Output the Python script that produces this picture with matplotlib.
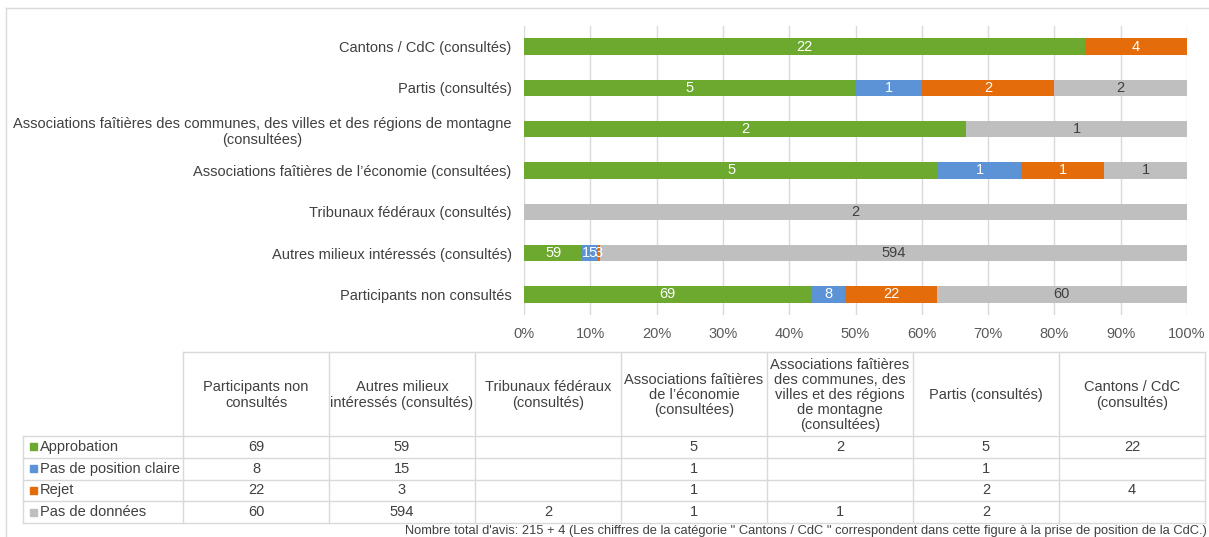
import numpy as np
import matplotlib
matplotlib.use('Agg')
import matplotlib.pyplot as plt
from matplotlib.patches import Rectangle

plt.rcParams['font.family'] = ['Liberation Sans', 'DejaVu Sans']

# categories, in table order (bottom bar first)
categories = ['Participants non consultés',
              'Autres milieux intéressés (consultés)',
              'Tribunaux fédéraux (consultés)',
              'Associations faîtières de l\u2019économie (consultées)',
              'Associations faîtières des communes, des villes et des régions de montagne\n(consultées)',
              'Partis (consultés)',
              'Cantons / CdC (consultés)']
table_headers = ['Participants non\nconsultés',
                 'Autres milieux\nintéressés (consultés)',
                 'Tribunaux fédéraux\n(consultés)',
                 'Associations faîtières\nde l\u2019économie\n(consultées)',
                 'Associations faîtières\ndes communes, des\nvilles et des régions\nde montagne\n(consultées)',
                 'Partis (consultés)',
                 'Cantons / CdC\n(consultés)']

series_names = ['Approbation', 'Pas de position claire', 'Rejet', 'Pas de données']
approbation = [69, 59, 0, 5, 2, 5, 22]
pas_claire = [8, 15, 0, 1, 0, 1, 0]
rejet = [22, 3, 0, 1, 0, 2, 4]
pas_donnees = [60, 594, 2, 1, 1, 2, 0]
colors = ['#6DA92F', '#5B93D6', '#E46C0A', '#BFBFBF']
label_colors = ['white', 'white', 'white', '#404040']

footnote = ('Nombre total d\'avis: 215 + 4 (Les chiffres de la catégorie " Cantons / CdC " '
            'correspondent dans cette figure à la prise de position de la CdC.)')

W, H = 1209, 537
fs = 10.5
fig = plt.figure(figsize=(W / 100, H / 100), dpi=100)

data = np.array([approbation, pas_claire, rejet, pas_donnees], dtype=float)
totals = data.sum(axis=0)
pct = data / totals * 100

ax = fig.add_axes([524 / W, 1 - 315 / H, (1187 - 524) / W, (315 - 26) / H])
ypos = np.arange(len(categories))
left = np.zeros(len(categories))
for k in range(4):
    ax.barh(ypos, pct[k], left=left, height=0.4, color=colors[k], zorder=3)
    for i in range(len(categories)):
        if data[k, i] > 0:
            ax.text(left[i] + pct[k, i] / 2, ypos[i], '%d' % data[k, i],
                    ha='center', va='center', fontsize=fs, color=label_colors[k], zorder=4)
    left += pct[k]

ax.set_xlim(0, 100)
ax.set_ylim(-0.5, len(categories) - 0.5)
ax.set_xticks(np.arange(0, 101, 10))
ax.set_xticklabels(['%d%%' % v for v in range(0, 101, 10)], fontsize=fs, color='#595959')
ax.set_yticks(ypos)
ax.set_yticklabels(categories, fontsize=fs, color='#404040')
for t in ax.get_yticklabels():
    t.set_multialignment('center')
ax.tick_params(length=0, pad=9)
ax.tick_params(axis='y', pad=9)
ax.grid(axis='x', color='#D9D9D9', linewidth=1, zorder=0)
for s in ax.spines.values():
    s.set_visible(False)

# table + frame drawn in pixel coordinates
tax = fig.add_axes([0, 0, 1, 1])
tax.set_xlim(0, W)
tax.set_ylim(H, 0)
tax.axis('off')
lc = '#D9D9D9'
tax.plot([6, 6], [8, H], color=lc, lw=1)
tax.plot([6, W], [8, 8], color=lc, lw=1)

col_edges = np.linspace(183, 1205, len(categories) + 1)
head_top, head_bot = 352, 436
row_edges = np.linspace(head_bot, 523, len(series_names) + 1)
tab_left = 23

tax.plot([col_edges[0], col_edges[-1]], [head_top, head_top], color=lc, lw=1)
for x in col_edges:
    tax.plot([x, x], [head_top, row_edges[-1]], color=lc, lw=1)
tax.plot([tab_left, tab_left], [row_edges[0], row_edges[-1]], color=lc, lw=1)
for y in row_edges:
    tax.plot([tab_left, col_edges[-1]], [y, y], color=lc, lw=1)

for j, hdr in enumerate(table_headers):
    tax.text((col_edges[j] + col_edges[j + 1]) / 2, (head_top + head_bot) / 2 + 1, hdr,
             ha='center', va='center', fontsize=fs, color='#404040', linespacing=1.1)

for k, name in enumerate(series_names):
    yc = (row_edges[k] + row_edges[k + 1]) / 2
    tax.add_patch(Rectangle((tab_left + 7, yc - 3.5), 7, 7, color=colors[k]))
    tax.text(tab_left + 17, yc, name, ha='left', va='center', fontsize=fs, color='#404040')
    for j in range(len(categories)):
        if data[k, j] > 0:
            tax.text((col_edges[j] + col_edges[j + 1]) / 2, yc, '%d' % data[k, j],
                     ha='center', va='center', fontsize=fs, color='#404040')

tax.text(1207, 531, footnote, ha='right', va='center', fontsize=9.3, color='#404040')

fig.savefig('out.png', dpi=100)
